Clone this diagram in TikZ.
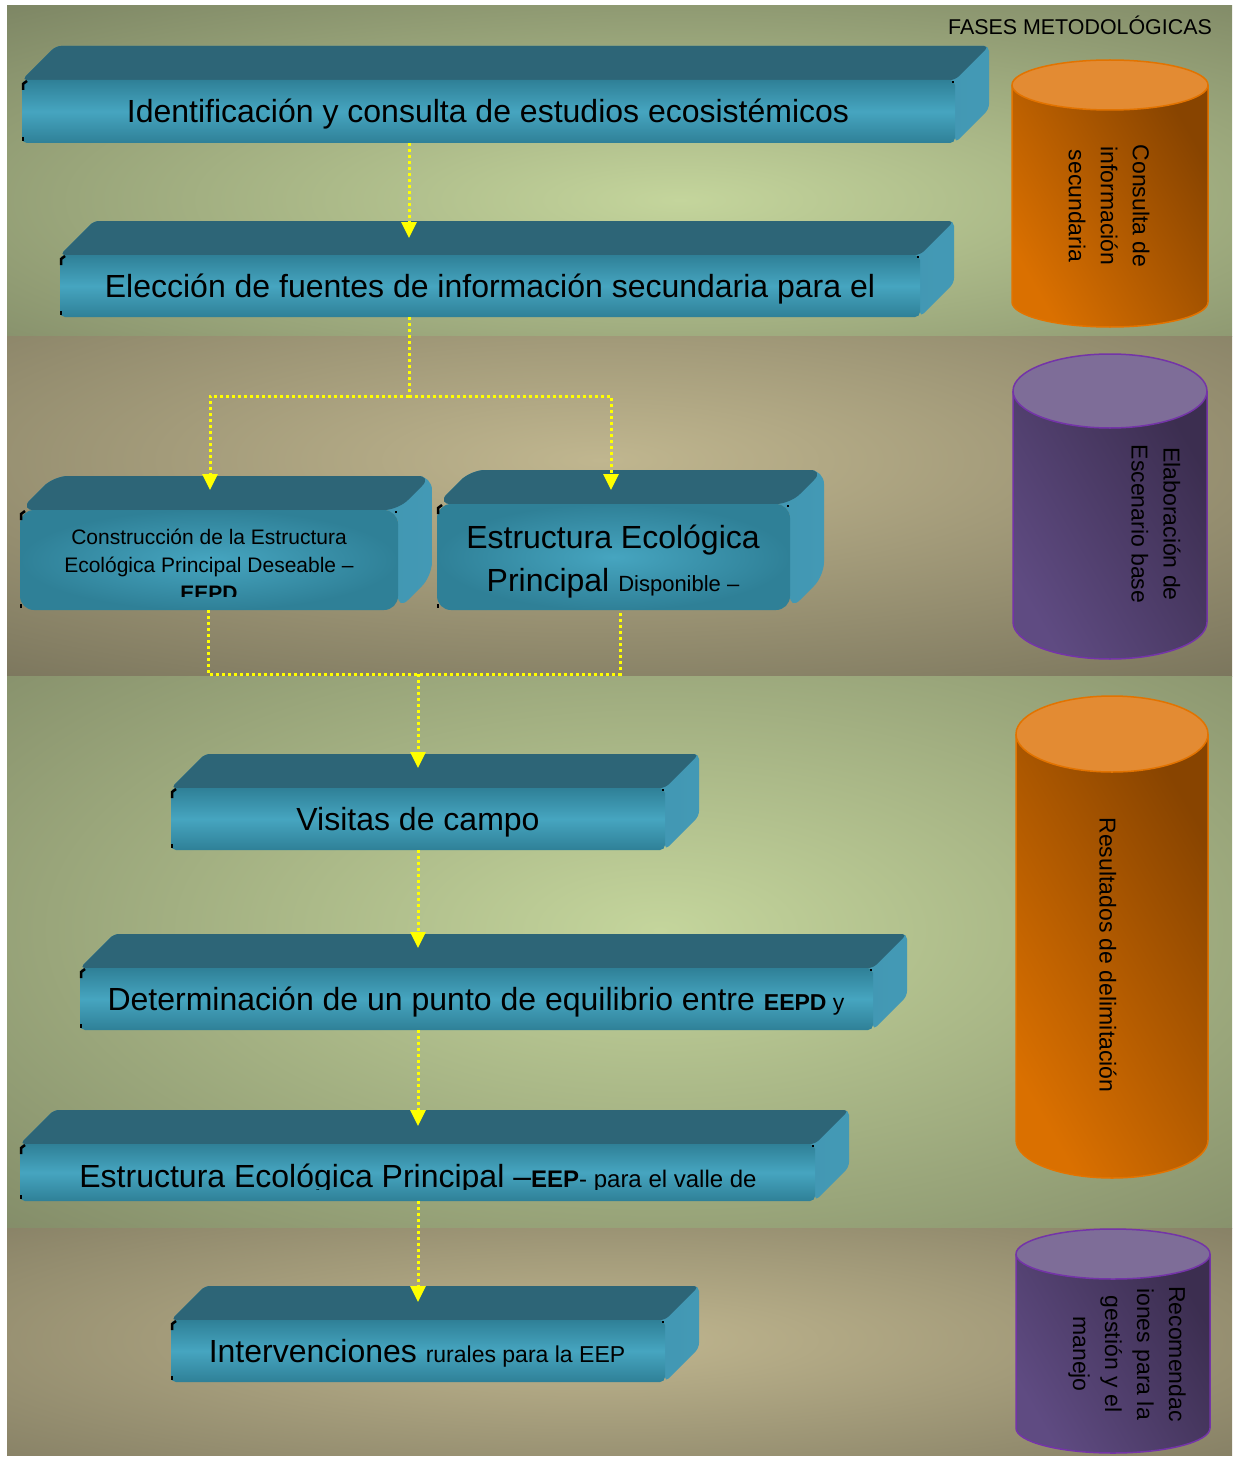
\documentclass[tikz,border=0pt]{standalone}
\usepackage{fontspec}
\setmainfont{Liberation Sans}
\usetikzlibrary{arrows.meta,calc}
\definecolor{olD}{HTML}{788060}
\definecolor{olL}{HTML}{C4D59C}
\definecolor{tnD}{HTML}{77725A}
\definecolor{tnL}{HTML}{C0B68F}
\definecolor{topC}{HTML}{2D6577}
\definecolor{frE}{HTML}{2F8097}
\definecolor{frM}{HTML}{46A5C0}
\definecolor{sdA}{HTML}{3588A0}
\definecolor{sdB}{HTML}{4399B5}
\definecolor{orA}{HTML}{DA7000}
\definecolor{orB}{HTML}{884400}
\definecolor{orT}{HTML}{E38B33}
\definecolor{orE}{HTML}{E27300}
\definecolor{puA}{HTML}{5F4B82}
\definecolor{puB}{HTML}{3C2E50}
\definecolor{puT}{HTML}{7E6D98}
\definecolor{puE}{HTML}{7434A8}
\definecolor{arY}{HTML}{FFFF00}
\newcommand\fsBig{\fontsize{32}{43}\selectfont}
\newcommand\fsMid{\fontsize{23}{28}\selectfont}
\newcommand\fsSm{\fontsize{21}{28}\selectfont}
\newcommand\fsCyl{\fontsize{23}{32}\selectfont}
\tikzset{
  topface/.style={fill=topC},
  sideface/.style={left color=sdA, right color=sdB},
  frontlin/.style={top color=frE, bottom color=frE, middle color=frM},
  frontrad/.style={inner color=frM, outer color=frE},
  frontface/.style={inner sep=0pt, draw=none},
  conn/.style={draw=arY, line width=3pt, dash pattern=on 3pt off 3pt},
  tip/.style={-{Triangle[width=15pt,length=16pt,fill=arY]}},
  boxtext/.style={inner sep=0pt, anchor=base, align=center},
  cyltext/.style={inner sep=0pt, align=center, rotate=-90, font=\fsCyl},
  corner/.style={draw=black, line width=2.5pt},
  orbody/.style={left color=orA, right color=orB, shading angle=120},
  puBody/.style={left color=puA, right color=puB, shading angle=120},
}
% name, x1, y1, x2, y2, radius, front style
\newcommand\tdbox[7]{%
  \shade[sideface, rounded corners=#6] (#2,#3) -- (#2+34,#3-34) -- (#4+34,#3-34) -- (#4+34,#5-34) -- (#4,#5) -- (#4,#3) -- cycle;
  \fill[topface, rounded corners=#6] (#2,#3) -- (#2+34,#3-34) -- (#4+34,#3-34) -- (#4,#3) -- cycle;
  \node[frontface, #7, rounded corners=#6, minimum width={(#4-#2)*1pt}, minimum height={(#5-#3)*1pt}] (#1) at ({(#2+#4)/2},{(#3+#5)/2}) {};
  \draw[corner] (#2+1,#3+10) -- (#2+1,#3+4) -- (#2+5,#3+1);
  \draw[corner] (#2+1,#5-6) -- (#2+1,#5-2);
  \fill[black] (#4-3,#3+1) rectangle (#4-1,#3+3);
}
% cx, rx, ty, ry, by, bodystyle, top colour, edge colour
\newcommand\cylshape[8]{%
  \shade[#6] (#1-#2,#3) -- (#1-#2,#5) arc[start angle=180,end angle=0,x radius=#2,y radius=#4] -- (#1+#2,#3) -- cycle;
  \draw[#8, line width=1.5pt] (#1-#2,#3) -- (#1-#2,#5) arc[start angle=180,end angle=0,x radius=#2,y radius=#4] -- (#1+#2,#3);
  \filldraw[fill=#7, draw=#8, line width=1.5pt] (#1,#3) ellipse [x radius=#2, y radius=#4];
}
\begin{document}
\begin{tikzpicture}[x=1pt, y=-1pt]
\useasboundingbox (0,0) rectangle (1232,1458);
\fill[white] (0,0) rectangle (1232,1458);

% ---------- background bands ----------
\begin{scope}
  \clip (7,6) rectangle (1232,336);
  \fill[olD] (7,6) rectangle (1232,336);
  \shade[inner color=olL, outer color=olD] (-420,-80) rectangle (1780,480);
\end{scope}
\begin{scope}
  \clip (7,336) rectangle (1232,676);
  \fill[tnD] (7,336) rectangle (1232,676);
  \shade[inner color=tnL, outer color=tnD] (-500,170) rectangle (1700,750);
\end{scope}
\begin{scope}
  \clip (7,676) rectangle (1232,1228);
  \fill[olD] (7,676) rectangle (1232,1228);
  \shade[inner color=olL, outer color=olD] (-440,430) rectangle (1760,1430);
\end{scope}
\begin{scope}
  \clip (7,1228) rectangle (1232,1455);
  \fill[tnD] (7,1228) rectangle (1232,1455);
  \shade[inner color=tnL, outer color=tnD] (-500,1120) rectangle (1700,1560);
\end{scope}

\node[inner sep=0pt, anchor=base east, font=\fontsize{21.4}{24}\selectfont] (title) at (1212,35) {FASES METODOLÓGICAS};

% ---------- cylinders ----------
\cylshape{1110}{98}{85}{25}{302}{orbody}{orT}{orE}
\node[cyltext] (c1) at (1109,206) {Consulta de\\información\\secundaria};
\cylshape{1110}{97}{391}{37}{622}{puBody}{puT}{puE}
\node[cyltext] (c2) at (1156,524) {Elaboración de\\Escenario base};
\cylshape{1112}{96}{734}{38}{1140}{orbody}{orT}{orE}
\node[cyltext] (c3) at (1108,955) {Resultados de delimitación};
\cylshape{1113}{97}{1254}{25}{1428}{puBody}{puT}{puE}
\node[cyltext] (c4) at (1127,1354) {Recomendac\\iones para la\\gestión y el\\manejo};

% ---------- boxes ----------
\tdbox{b1}{22}{80}{955}{143}{5pt}{frontlin}
\tdbox{b2}{60}{255}{920}{317}{5pt}{frontlin}
\tdbox{b3}{20}{510}{398}{610}{14pt}{frontrad}
\tdbox{b4}{437}{504}{790}{610}{14pt}{frontrad}
\tdbox{b5}{171}{788}{665}{850}{5pt}{frontlin}
\tdbox{b6}{80}{968}{873}{1030}{5pt}{frontlin}
\tdbox{b7}{20}{1144}{815}{1201}{5pt}{frontlin}
\tdbox{b8}{171}{1320}{665}{1382}{5pt}{frontlin}

% ---------- box texts ----------
\node[boxtext, font=\fsBig] (t1) at (488,123) {Identificación y consulta de estudios ecosistémicos};
\node[boxtext, font=\fsBig] (t2) at (490,297) {Elección de fuentes de información secundaria para el};
\begin{scope}
  \clip (20,515) rectangle (398,596);
  \node[boxtext, font=\fsSm] (t3) at (209,600)
    {Construcción de la Estructura\\Ecológica Principal Deseable –\\\textbf{EEPD}};
\end{scope}
\node[boxtext, font=\fsBig] (t4a) at (613,548) {Estructura Ecológica};
\node[boxtext, font=\fsBig] (t4b) at (613,591) {Principal {\fontsize{22}{26}\selectfont Disponible –}};
\node[boxtext, font=\fsBig] (t5) at (418,830) {Visitas de campo};
\node[boxtext, font=\fsBig] (t6) at (476,1010) {Determinación de un punto de equilibrio entre {\fsMid\textbf{EEPD} y}};
\begin{scope}
  \clip (20,1144) rectangle (815,1189);
  \node[boxtext, font=\fsBig] (t7) at (418,1187) {Estructura Ecológica Principal –{\fontsize{24}{28}\selectfont\textbf{EEP}- para el valle de}};
\end{scope}
\node[boxtext, font=\fsBig] (t8) at (417,1362) {Intervenciones {\fsMid rurales para la EEP}};

% ---------- connectors ----------
\coordinate (a2) at (409,238);
\coordinate (j1) at (409,396);
\coordinate (a3) at (210,490);
\coordinate (a4) at (611,490);
\coordinate (m3) at (208,674);
\coordinate (m4) at (620,674);
\coordinate (j2) at (418,674);
\coordinate (a5) at (418,768);
\coordinate (a6) at (418,948);
\coordinate (a7) at (418,1126);
\coordinate (a8) at (418,1302);

\draw[conn, tip] (b1.south -| a2) -- (a2);
\draw[conn] (b2.south -| j1) -- (j1);
\draw[conn, tip] (j1) -| (a3);
\draw[conn, tip] (j1) -| (a4);
\draw[conn] (b3.south -| m3) -- (m3) -- (m4) -- (b4.south -| m4);
\draw[conn, tip] (j2) -- (a5);
\draw[conn, tip] (b5.south -| a6) -- (a6);
\draw[conn, tip] (b6.south -| a7) -- (a7);
\draw[conn, tip] (b7.south -| a8) -- (a8);
\end{tikzpicture}
\end{document}
